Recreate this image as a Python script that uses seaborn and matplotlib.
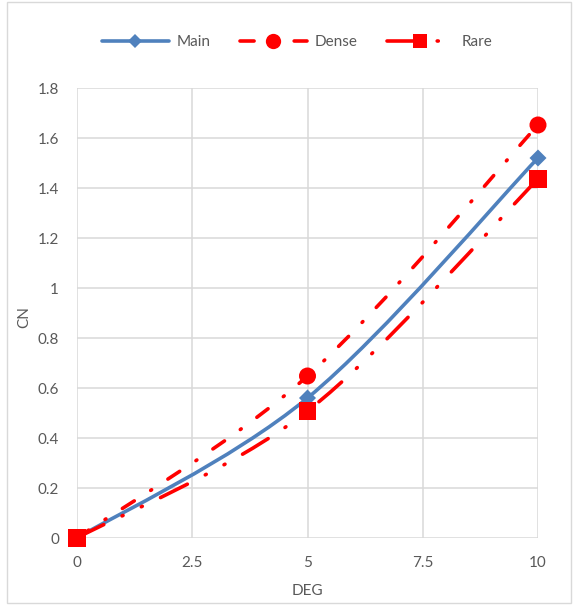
import numpy as np
import pandas as pd
import seaborn as sns
import matplotlib
matplotlib.use("Agg")
import matplotlib.pyplot as plt
from matplotlib.path import Path
from matplotlib.patches import PathPatch, Rectangle
from matplotlib.lines import Line2D

# ---- data ----
deg = [0, 5, 10]
main_cn = [0.0, 0.56, 1.52]
dense_cn = [0.0, 0.648, 1.652]
rare_cn = [0.0, 0.508, 1.436]
series_names = ["Main", "Dense", "Rare"]
x_ticks = [0, 2.5, 5, 7.5, 10]
x_ticklabels = ["0", "2.5", "5", "7.5", "10"]
y_ticks = [0, 0.2, 0.4, 0.6, 0.8, 1.0, 1.2, 1.4, 1.6, 1.8]
y_ticklabels = ["0", "0.2", "0.4", "0.6", "0.8", "1", "1.2", "1.4", "1.6", "1.8"]

df = pd.DataFrame({
    "DEG": deg * 3,
    "CN": main_cn + dense_cn + rare_cn,
    "series": [s for s in series_names for _ in deg],
})

sns.set_style("white")
plt.rcParams["font.family"] = ["Lato", "DejaVu Sans"]

BLUE = "#4F81BD"
RED = "#FF0000"
GRAY = "#595959"
GRID = "#D9D9D9"
FS = 11

fig = plt.figure(figsize=(5.74, 6.05), dpi=100)
ax = fig.add_axes([77 / 574, (605 - 538) / 605, (538 - 77) / 574, (538 - 88) / 605])

# chart border
fig.patches.append(Rectangle((7 / 574, 2 / 605), (571 - 7) / 574, (605 - 4) / 605,
                             transform=fig.transFigure, fill=False,
                             edgecolor=GRID, linewidth=1.0))

ax.set_xlim(0, 10)
ax.set_ylim(0, 1.8)
ax.set_xticks(x_ticks)
ax.set_xticklabels(x_ticklabels)
ax.set_yticks(y_ticks)
ax.set_yticklabels(y_ticklabels)
ax.grid(True, color=GRID, linewidth=1.1)
for sp in ax.spines.values():
    sp.set_visible(False)
ax.tick_params(length=0, labelsize=FS, labelcolor=GRAY)
ax.tick_params(axis="y", pad=13)
ax.tick_params(axis="x", pad=13)


def smooth_path(xs, ys, t=1.0 / 6.0):
    pts = np.column_stack([xs, ys]).astype(float)
    n = len(pts)
    verts = [pts[0]]
    codes = [Path.MOVETO]
    for i in range(n - 1):
        p_prev = pts[i - 1] if i > 0 else pts[i]
        p0 = pts[i]
        p1 = pts[i + 1]
        p_next = pts[i + 2] if i + 2 < n else pts[i + 1]
        c1 = p0 + (p1 - p_prev) * t
        c2 = p1 - (p_next - p0) * t
        verts += [c1, c2, p1]
        codes += [Path.CURVE4] * 3
    return Path(verts, codes)


LW = 2.6
styles = {
    "Main": dict(color=BLUE, dashes=None),
    "Dense": dict(color=RED, dashes=(3.9, 5.4, 0.3, 5.4)),
    "Rare": dict(color=RED, dashes=(8.3, 5.6, 0.3, 5.6, 0.3, 5.6)),
}
curves = {"Main": main_cn, "Dense": dense_cn, "Rare": rare_cn}
for name in series_names:
    st = styles[name]
    ls = "-" if st["dashes"] is None else (0, st["dashes"])
    patch = PathPatch(smooth_path(deg, curves[name]), fill=False,
                      edgecolor=st["color"], linewidth=LW, linestyle=ls,
                      capstyle="round", joinstyle="round", zorder=3)
    ax.add_patch(patch)

sns.scatterplot(data=df, x="DEG", y="CN", hue="series", style="series",
                size="series",
                palette={"Main": BLUE, "Dense": RED, "Rare": RED},
                markers={"Main": "D", "Dense": "o", "Rare": "s"},
                sizes={"Main": 75, "Dense": 150, "Rare": 165},
                linewidth=0, legend=False, clip_on=False, zorder=5, ax=ax)
ax.set_xlabel("DEG", fontsize=FS, color=GRAY, labelpad=10)
ax.set_ylabel("CN", fontsize=FS, color=GRAY)
ax.yaxis.set_label_coords(-0.1, 0.49)

handles = [
    Line2D([], [], color=BLUE, lw=LW, marker="D", markersize=7, markeredgewidth=0),
    Line2D([], [], color=RED, lw=LW, linestyle=(0, styles["Dense"]["dashes"]),
           dash_capstyle="round", marker="o", markersize=11, markeredgewidth=0),
    Line2D([], [], color=RED, lw=LW, linestyle=(0, styles["Rare"]["dashes"]),
           dash_capstyle="round", marker="s", markersize=10, markeredgewidth=0),
]
fig.legend(handles, series_names, loc="center", bbox_to_anchor=(297 / 574, 1 - 42 / 605),
           ncol=3, frameon=False, fontsize=FS, labelcolor=GRAY,
           handlelength=4.4, handletextpad=0.5, columnspacing=1.9)

fig.savefig("out.png", dpi=100)
